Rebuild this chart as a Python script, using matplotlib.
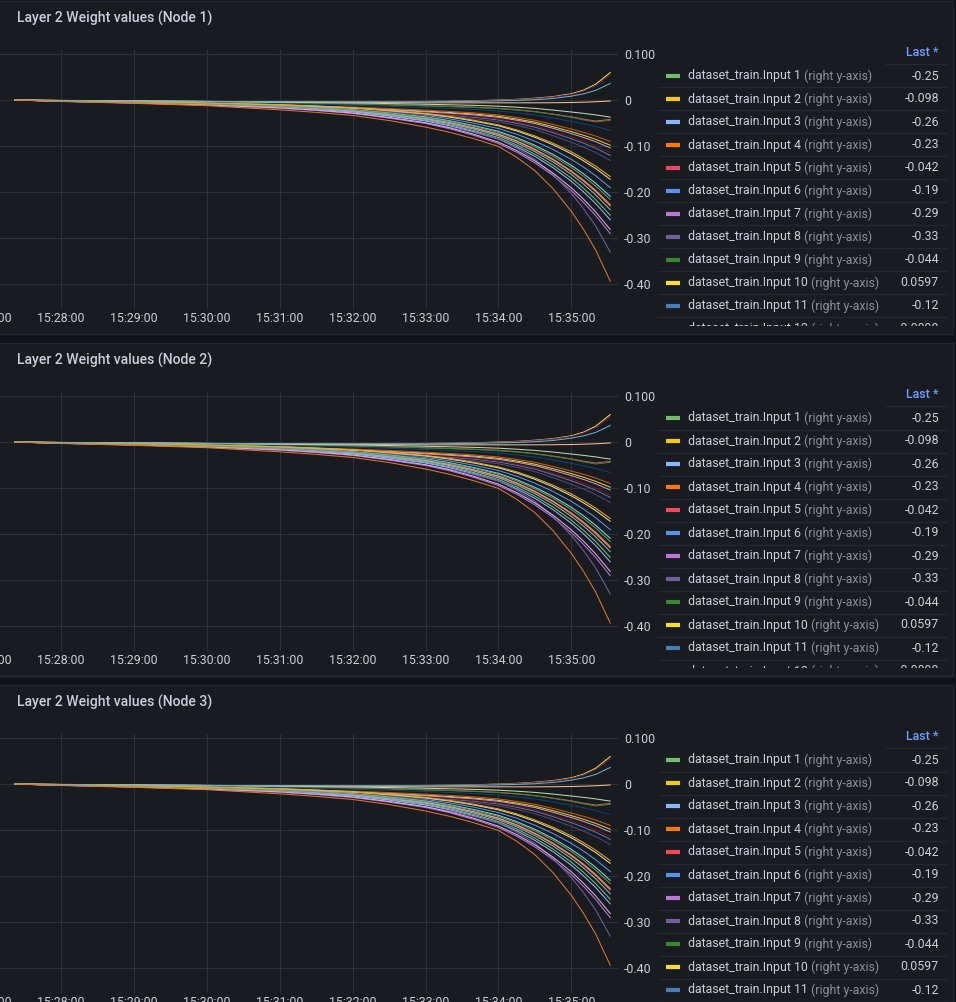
import matplotlib.pyplot as plt
import matplotlib.dates as mdates
import pandas as pd
from matplotlib.patches import Rectangle

plt.rcParams['font.family'] = ['Roboto', 'DejaVu Sans']

# sample times (x) shared by every series
TIMES = ["15:27:22", "15:28:00", "15:29:00", "15:30:00", "15:31:00", "15:31:30", "15:32:00",
         "15:32:30", "15:33:00", "15:33:20", "15:33:40", "15:34:00", "15:34:15", "15:34:30",
         "15:34:45", "15:35:00", "15:35:10", "15:35:20", "15:35:32"]

# weight values per input
w01 = [0, -0.0023, -0.0055, -0.0095, -0.015, -0.0195, -0.025, -0.0338, -0.0438, -0.0538, -0.0663, -0.0813, -0.0975, -0.1175, -0.1413, -0.1695, -0.1915, -0.216, -0.25]
w02 = [0, -0.002, -0.0049, -0.0078, -0.0118, -0.0142, -0.0167, -0.0201, -0.024, -0.027, -0.0304, -0.0353, -0.0412, -0.048, -0.0578, -0.0686, -0.0764, -0.0853, -0.098]
w03 = [0, -0.0023, -0.0057, -0.0099, -0.0156, -0.0203, -0.026, -0.0351, -0.0455, -0.0559, -0.0689, -0.0845, -0.1014, -0.1222, -0.1469, -0.1763, -0.1992, -0.2246, -0.26]
w04 = [0, -0.0021, -0.0051, -0.0087, -0.0138, -0.0179, -0.023, -0.0311, -0.0403, -0.0495, -0.061, -0.0748, -0.0897, -0.1081, -0.13, -0.1559, -0.1762, -0.1987, -0.23]
w05 = [0, -0.001, -0.0025, -0.004, -0.006, -0.0073, -0.0085, -0.0103, -0.0123, -0.0138, -0.0155, -0.018, -0.021, -0.025, -0.0305, -0.0365, -0.0415, -0.0455, -0.042]
w06 = [0, -0.0017, -0.0042, -0.0072, -0.0114, -0.0148, -0.019, -0.0257, -0.0333, -0.0409, -0.0504, -0.0618, -0.0741, -0.0893, -0.1074, -0.1288, -0.1455, -0.1642, -0.19]
w07 = [0, -0.0026, -0.0064, -0.011, -0.0174, -0.0226, -0.029, -0.0392, -0.0508, -0.0624, -0.0769, -0.0943, -0.1131, -0.1363, -0.1639, -0.1966, -0.2221, -0.2506, -0.29]
w08 = [0, -0.0026, -0.0059, -0.0102, -0.0178, -0.0224, -0.0281, -0.0373, -0.0492, -0.0587, -0.0706, -0.0845, -0.1043, -0.1287, -0.1617, -0.203, -0.2356, -0.2732, -0.33]
w09 = [0, -0.001, -0.0025, -0.004, -0.006, -0.0074, -0.0087, -0.0105, -0.0126, -0.0142, -0.016, -0.0185, -0.0216, -0.0255, -0.031, -0.0375, -0.043, -0.0475, -0.044]
w10 = [0, -0.001, -0.002, -0.003, -0.0035, -0.0038, -0.004, -0.0036, -0.003, -0.0025, -0.0015, 0.0, 0.0015, 0.004, 0.0075, 0.0136, 0.0216, 0.0343, 0.0597]
w11 = [0, -0.0024, -0.006, -0.0096, -0.0144, -0.0174, -0.0204, -0.0246, -0.0294, -0.033, -0.0372, -0.0432, -0.0504, -0.0588, -0.0708, -0.084, -0.0936, -0.1044, -0.12]
w12 = [0, -0.0018, -0.0045, -0.0072, -0.0108, -0.013, -0.0153, -0.0184, -0.022, -0.0247, -0.0278, -0.0323, -0.0377, -0.044, -0.053, -0.0629, -0.07, -0.0781, -0.0898]
w13 = [0, -0.0023, -0.0057, -0.0091, -0.0137, -0.0165, -0.0194, -0.0234, -0.0279, -0.0314, -0.0353, -0.041, -0.0479, -0.0559, -0.0673, -0.0798, -0.0889, -0.0992, -0.114]
w14 = [0, -0.0013, -0.0033, -0.0053, -0.0079, -0.0096, -0.0112, -0.0135, -0.0162, -0.0182, -0.0205, -0.0238, -0.0277, -0.0323, -0.0389, -0.0462, -0.0515, -0.0574, -0.066]
w15 = [0, -0.001, -0.002, -0.003, -0.0035, -0.0038, -0.004, -0.0037, -0.0032, -0.0027, -0.0018, -0.0004, 0.001, 0.0033, 0.0066, 0.0122, 0.0196, 0.0313, 0.055]
w16 = [0, -0.0026, -0.0066, -0.0105, -0.0157, -0.019, -0.0223, -0.0269, -0.0321, -0.036, -0.0406, -0.0472, -0.055, -0.0642, -0.0773, -0.0917, -0.1022, -0.114, -0.131]
w17 = [0, -0.0007, -0.0019, -0.003, -0.0044, -0.0054, -0.0063, -0.0076, -0.0091, -0.0102, -0.0115, -0.0133, -0.0155, -0.0181, -0.0218, -0.0259, -0.0289, -0.0322, -0.037]
w18 = [0, -0.0015, -0.0038, -0.0065, -0.0103, -0.0134, -0.0172, -0.0232, -0.0301, -0.037, -0.0456, -0.0559, -0.0671, -0.0808, -0.0972, -0.1166, -0.1318, -0.1486, -0.172]
w19 = [0, -0.0019, -0.0046, -0.0079, -0.0125, -0.0163, -0.0209, -0.0282, -0.0366, -0.0449, -0.0554, -0.0679, -0.0815, -0.0982, -0.1181, -0.1417, -0.1601, -0.1806, -0.209]
w20 = [0, -0.001, -0.002, -0.003, -0.004, -0.0045, -0.005, -0.0055, -0.006, -0.006, -0.006, -0.006, -0.006, -0.006, -0.0058, -0.0053, -0.0046, -0.0037, -0.002]
w21 = [0, -0.002, -0.005, -0.0086, -0.0136, -0.0177, -0.0227, -0.0306, -0.0397, -0.0488, -0.0602, -0.0738, -0.0885, -0.1067, -0.1283, -0.1539, -0.1739, -0.1961, -0.227]
w22 = [0, -0.0021, -0.0052, -0.009, -0.0143, -0.0186, -0.0238, -0.0321, -0.0417, -0.0512, -0.0631, -0.0774, -0.0928, -0.1119, -0.1345, -0.1614, -0.1823, -0.2056, -0.238]
w23 = [0, -0.0025, -0.0062, -0.0107, -0.0169, -0.0219, -0.0281, -0.0379, -0.0492, -0.0604, -0.0745, -0.0913, -0.1096, -0.1321, -0.1588, -0.1905, -0.2152, -0.2428, -0.281]
w24 = [0, -0.0021, -0.0052, -0.0083, -0.0125, -0.0151, -0.0177, -0.0213, -0.0255, -0.0286, -0.0322, -0.0374, -0.0437, -0.051, -0.0614, -0.0728, -0.0811, -0.0905, -0.104]
w25 = [0, -0.0019, -0.0048, -0.0082, -0.013, -0.0168, -0.0216, -0.0292, -0.0378, -0.0464, -0.0572, -0.0702, -0.0842, -0.1015, -0.122, -0.1464, -0.1655, -0.1866, -0.216]
w26 = [0, -0.0015, -0.0037, -0.0063, -0.01, -0.0129, -0.0166, -0.0224, -0.0291, -0.0357, -0.044, -0.054, -0.0647, -0.078, -0.0938, -0.1125, -0.1272, -0.1434, -0.166]
w27 = [0, -0.001, -0.002, -0.003, -0.0035, -0.0038, -0.004, -0.004, -0.0038, -0.0034, -0.0028, -0.0018, -0.0008, 0.0008, 0.0035, 0.0085, 0.0135, 0.021, 0.036]
w28 = [0, -0.0031, -0.0071, -0.0122, -0.0212, -0.0267, -0.0334, -0.0444, -0.0586, -0.07, -0.0841, -0.1006, -0.1242, -0.1533, -0.1926, -0.2417, -0.2806, -0.3254, -0.393]

SERIES = [w01, w02, w03, w04, w05, w06, w07, w08, w09, w10, w11, w12, w13, w14,
          w15, w16, w17, w18, w19, w20, w21, w22, w23, w24, w25, w26, w27, w28]
COLORS = ["#73BF69", "#F2CC0C", "#8AB8FF", "#FF780A", "#F2495C", "#5794F2", "#B877D9",
          "#705DA0", "#37872D", "#FADE2A", "#447EBC", "#C15C17", "#890F02", "#0A437C",
          "#6D1F62", "#584477", "#B7DBAB", "#F4D598", "#70DBED", "#F9BA8F", "#F29191",
          "#82B5D8", "#E5A8E2", "#AEA2E0", "#629E51", "#E5AC0E", "#64B0C8", "#E0752D"]
NAMES = [f"dataset_train.Input {i + 1}" for i in range(len(SERIES))]
LAST_LABELS = ["-0.25", "-0.098", "-0.26", "-0.23", "-0.042", "-0.19", "-0.29", "-0.33",
               "-0.044", "0.0597", "-0.12", "-0.0898"]
TITLES = ["Layer 2 Weight values (Node 1)", "Layer 2 Weight values (Node 2)",
          "Layer 2 Weight values (Node 3)"]
YTICKS = [0.1, 0, -0.1, -0.2, -0.3, -0.4]
YTICK_LABELS = ["0.100", "0", "-0.10", "-0.20", "-0.30", "-0.40"]

PAGE_BG = "#111217"
PANEL_BG = "#181b1f"
BORDER = "#24272d"
GRID = "#2e3035"
TEXT = "#ccccdc"
MUTED = "#8e9099"
FS = 8.9

W, H = 956, 1002


def fx(x):
    return x / W


def fy(y):
    return 1 - y / H


fig = plt.figure(figsize=(W / 100, H / 100), dpi=100, facecolor=PAGE_BG)
renderer = fig.canvas.get_renderer()

t = pd.to_datetime(["2023-01-01 " + s for s in TIMES])
x_left = pd.Timestamp("2023-01-01 15:26:36.7")
x_right = pd.Timestamp("2023-01-01 15:35:38.4")

for k, title in enumerate(TITLES):
    dy = 342 * k

    fig.add_artist(Rectangle((fx(-5), fy(334 + dy)), 958 / W, 333 / H,
                             transform=fig.transFigure, facecolor=PANEL_BG,
                             edgecolor=BORDER, lw=1, zorder=0))
    fig.text(fx(17), fy(18 + dy), title, fontsize=10.1, fontweight="medium",
             color=TEXT, va="center", ha="left")

    # time series
    ax = fig.add_axes([fx(-40), fy(309 + dy), 658 / W, 259 / H])
    ax.set_facecolor("none")
    for vals, col in zip(SERIES, COLORS):
        ax.plot(t, vals, color=col, lw=0.75)
    ax.set_xlim(x_left, x_right)
    ax.set_ylim(-0.4536, 0.1087)
    ax.xaxis.set_major_locator(mdates.MinuteLocator())
    ax.xaxis.set_major_formatter(mdates.DateFormatter("%H:%M:%S"))
    ax.yaxis.tick_right()
    ax.set_yticks(YTICKS)
    ax.set_yticklabels(YTICK_LABELS)
    ax.tick_params(axis="y", length=0, pad=4.5, labelsize=FS, labelcolor=TEXT)
    ax.tick_params(axis="x", length=0, pad=2.5, labelsize=FS, labelcolor=TEXT)
    ax.grid(True, color=GRID, lw=0.8)
    ax.set_axisbelow(True)
    for s in ax.spines.values():
        s.set_visible(False)

    # legend table
    lax = fig.add_axes([fx(650), fy(326 + dy), 300 / W, 286 / H])
    lax.set_xlim(650, 950)
    lax.set_ylim(326, 40)
    lax.axis("off")
    lax.text(939, 53, "Last *", ha="right", va="center", fontsize=FS,
             fontweight="medium", color="#6e9fff")
    lax.plot([886, 947], [64, 64], color=BORDER, lw=1)
    for i, label in enumerate(LAST_LABELS):
        yc = 76 + 23 * i
        lax.plot([666, 680], [yc, yc], color=COLORS[i], lw=3, solid_capstyle="butt",
                 clip_on=True)
        name = lax.text(688, yc, NAMES[i], ha="left", va="center", fontsize=FS,
                        color=TEXT, clip_on=True)
        w = name.get_window_extent(renderer=renderer).width
        lax.text(688 + w, yc, " (right y-axis)", ha="left", va="center", fontsize=FS,
                 color=MUTED, clip_on=True)
        lax.text(939, yc, label, ha="right", va="center", fontsize=FS, color=TEXT,
                 clip_on=True)
        lax.plot([658, 947], [yc + 11.5, yc + 11.5], color=BORDER, lw=1, clip_on=True)

fig.savefig("out.png", dpi=100, facecolor=PAGE_BG)
